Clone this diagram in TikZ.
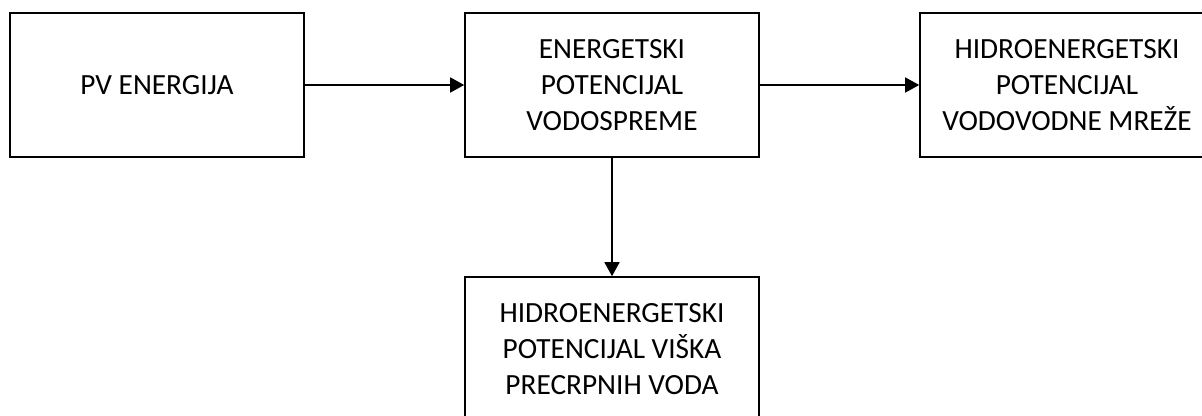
\documentclass[tikz,border=0pt]{standalone}
\usepackage{fontspec}
\setmainfont{Carlito}
\usetikzlibrary{arrows.meta}
\tikzset{
  box/.style={draw=black, line width=1.6pt, minimum width=294pt, minimum height=144pt, align=center, inner sep=0pt, font=\fontsize{29.3}{36}\selectfont, text=black},
  conn/.style={draw=black, line width=1.6pt, -{Triangle[length=14pt,width=15pt]}}
}
\begin{document}
\begin{tikzpicture}[x=1pt,y=1pt]
\useasboundingbox (0,0) rectangle (1202,-415);
\clip (0,0) rectangle (1202,-415);
\node[box] (pv) at (157,-85) {PV ENERGIJA};
\node[box] (ep) at (612,-85) {ENERGETSKI\\POTENCIJAL\\VODOSPREME};
\node[box] (hv) at (1067,-85) {HIDROENERGETSKI\\POTENCIJAL\\VODOVODNE MREŽE};
\node[box] (hp) at (612,-349) {HIDROENERGETSKI\\POTENCIJAL VIŠKA\\PRECRPNIH VODA};
\draw[conn] (pv) -- (ep);
\draw[conn] (ep) -- (hv);
\draw[conn] (ep) -- (hp);
\end{tikzpicture}
\end{document}
